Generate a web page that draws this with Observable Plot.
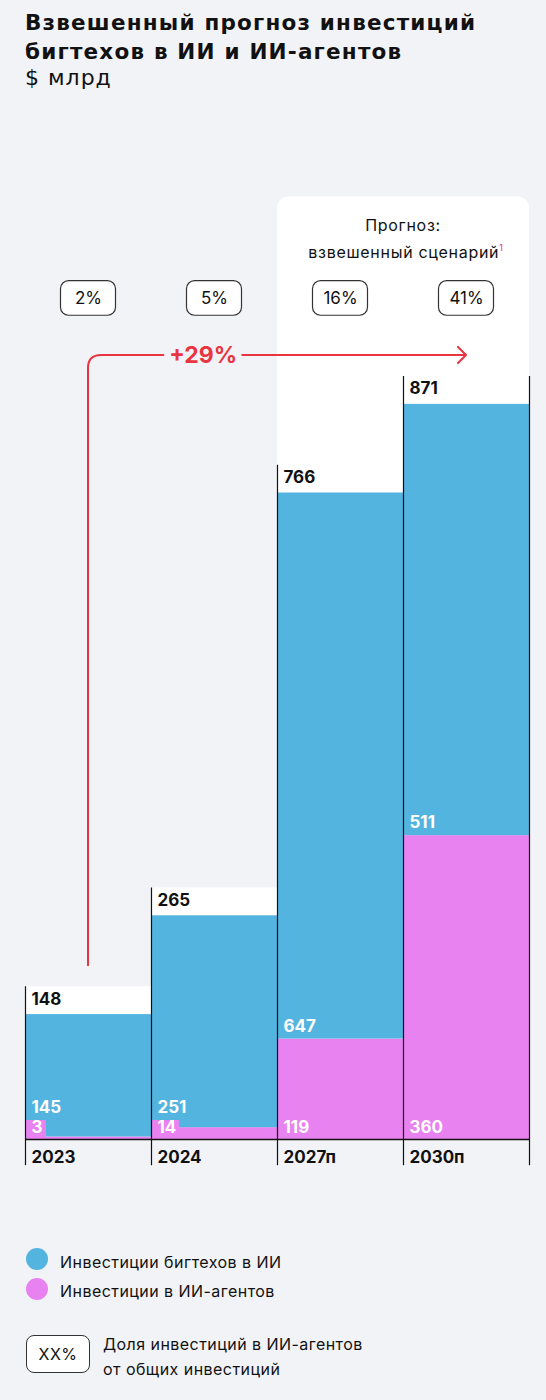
<!DOCTYPE html>
<html>
<head>
<meta charset="utf-8">
<script src="https://cdn.jsdelivr.net/npm/d3@7"></script>
<script src="https://cdn.jsdelivr.net/npm/@observablehq/plot@0.6"></script>
<style>
  html, body { margin: 0; padding: 0; }
  body { width: 546px; height: 1400px; background: #f2f3f7; font-family: Inter, "Noto Sans", sans-serif; color: #111; position: relative; overflow: hidden; }
  .abs { position: absolute; }
  #title { left: 25px; top: 8px; font-family: "DejaVu Sans", sans-serif; font-size: 21.5px; font-weight: 700; line-height: 29px; letter-spacing: 1.2px; white-space: nowrap; }
  #subtitle { left: 25px; top: 63px; font-family: "DejaVu Sans", sans-serif; font-size: 22px; font-weight: 400; line-height: 29px; letter-spacing: 1px; }
  #chart { left: 0; top: 110px; }
  .dot { width: 22px; height: 22px; border-radius: 50%; left: 26px; }
  .leg { left: 60px; font-size: 16px; line-height: 20px; white-space: nowrap; letter-spacing: 0.45px; }
  #box { left: 26px; top: 1335px; width: 62px; height: 36px; border: 1.3px solid #333; border-radius: 8px; background: #fff; font-size: 16px; letter-spacing: 0.5px; display: flex; align-items: center; justify-content: center; }
  #boxtext { left: 103px; top: 1332px; font-size: 16px; line-height: 25px; white-space: nowrap; letter-spacing: 0.45px; }
</style>
</head>
<body>
<div id="title" class="abs">Взвешенный прогноз инвестиций<br>бигтехов в ИИ и ИИ-агентов</div>
<div id="subtitle" class="abs">$ млрд</div>
<div id="chart" class="abs"></div>

<div class="abs dot" style="top:1248px;background:#54b4e0"></div>
<div class="abs leg" style="top:1252px">Инвестиции бигтехов в ИИ</div>
<div class="abs dot" style="top:1278px;background:#e882f0"></div>
<div class="abs leg" style="top:1281px">Инвестиции в ИИ-агентов</div>
<div id="box" class="abs">XX%</div>
<div id="boxtext" class="abs">Доля инвестиций в ИИ-агентов<br>от общих инвестиций</div>

<script>
// ---- data ----
const years   = ["2023", "2024", "2027п", "2030п"];
const bigtech = [145, 251, 647, 511];   // investments of bigtechs in AI (blue)
const agents  = [3, 14, 119, 360];      // investments in AI agents (pink)
const shares  = ["2%", "5%", "16%", "41%"];
const growthLabel = "+29%";
const forecastTitle = "Прогноз:";
const forecastSub = "взвешенный сценарий";
const footnote = "1";

// ---- style ----
const BLUE = "#54b4e0", PINK = "#e882f0", RED = "#e8353f", INK = "#111";
const LABEL_PAD = 33;       // white strip above each bar (data units)
const PANEL_TOP = 1117;     // top of forecast panel (data units)
const PCT_Y = 996.5;        // share boxes centre (data units)
const ARROW = {x0: 0.5, x1: 3.5, yBottom: 206, yTop: 929};
const SMALL = 22.5;         // minimum label box height for tiny pink segments

const rows = years.map((year, i) => ({
  i, year,
  blue: bigtech[i],
  agents: agents[i],
  total: bigtech[i] + agents[i],
  share: shares[i]
}));
const edges = rows.map(d => ({x: d.i, top: d.total + LABEL_PAD}))
  .concat([{x: rows.length, top: rows[rows.length - 1].total + LABEL_PAD}]);

const ns = "http://www.w3.org/2000/svg";

function arrowMark(index, scales) {
  const {x, y} = scales;
  const g = document.createElementNS(ns, "g");
  const x0 = x(ARROW.x0), xe = x(ARROW.x1), yb = y(ARROW.yBottom), yt = y(ARROW.yTop), r = 13;
  const p = document.createElementNS(ns, "path");
  p.setAttribute("d", `M${x0},${yb}V${yt + r}Q${x0},${yt} ${x0 + r},${yt}H${xe}M${xe - 8},${yt - 8}L${xe},${yt}L${xe - 8},${yt + 8}`);
  p.setAttribute("fill", "none");
  p.setAttribute("stroke", RED);
  p.setAttribute("stroke-width", 2);
  p.setAttribute("stroke-linecap", "round");
  p.setAttribute("stroke-linejoin", "round");
  g.appendChild(p);
  return g;
}

function headingMark(index, scales) {
  const {x, y} = scales;
  const g = document.createElementNS(ns, "g");
  g.setAttribute("font-size", 16);
  g.setAttribute("fill", INK);
  g.setAttribute("letter-spacing", "0.7");
  g.setAttribute("text-anchor", "middle");
  const cx = x(3);
  const t1 = document.createElementNS(ns, "text");
  t1.setAttribute("x", cx); t1.setAttribute("y", y(1083) + 6);
  t1.textContent = forecastTitle;
  const t2 = document.createElementNS(ns, "text");
  t2.setAttribute("x", cx + 3); t2.setAttribute("y", y(1051) + 6);
  const s1 = document.createElementNS(ns, "tspan");
  s1.textContent = forecastSub;
  const s2 = document.createElementNS(ns, "tspan");
  s2.textContent = footnote;
  s2.setAttribute("font-size", 9);
  s2.setAttribute("fill", RED);
  s2.setAttribute("dy", -7);
  t2.appendChild(s1); t2.appendChild(s2);
  g.appendChild(t1); g.appendChild(t2);
  return g;
}

const chart = Plot.plot({
  width: 546,
  height: 1100,
  marginLeft: 25, marginRight: 17, marginTop: 0, marginBottom: 71,
  x: {type: "linear", domain: [0, 4], range: [25, 529], axis: null},
  y: {domain: [0, 1000], range: [1029, 185], axis: null},
  style: {background: "transparent", fontFamily: "Inter, 'Noto Sans', sans-serif", color: INK, overflow: "visible"},
  marks: [
    // forecast panel
    Plot.rect([{}], {x1: 2, x2: 4, y1: 0, y2: PANEL_TOP, fill: "white", rx: 12}),
    // white strips for total labels
    Plot.rect(rows, {x1: "i", x2: d => d.i + 1, y1: "total", y2: d => d.total + LABEL_PAD, fill: "white"}),
    // stacked bars
    Plot.rect(rows, {x1: "i", x2: d => d.i + 1, y1: 0, y2: "agents", fill: PINK}),
    Plot.rect(rows, {x1: "i", x2: d => d.i + 1, y1: "agents", y2: "total", fill: BLUE}),
    Plot.rect(rows.filter(d => d.agents < SMALL), {
      x1: "i", x2: d => d.i + (14 + 7 * String(d.agents).length) / 126,
      y1: 0, y2: SMALL, fill: PINK
    }),
    // separators and baseline
    Plot.ruleX(edges, {x: "x", y1: -31, y2: "top", stroke: INK, strokeWidth: 1.2}),
    Plot.ruleY([0], {x1: 0, x2: 4, stroke: INK, strokeWidth: 1.5}),
    // labels
    Plot.text(rows, {x: "i", y: 0, text: "year", dx: 6, dy: 18, textAnchor: "start", fontSize: 17, fontWeight: 700, fill: INK}),
    Plot.text(rows, {x: "i", y: "total", text: d => String(d.total), dx: 6, dy: -15.5, textAnchor: "start", fontSize: 17, fontWeight: 700, fill: INK}),
    Plot.text(rows, {x: "i", y: d => Math.max(d.agents, SMALL), text: d => String(d.blue), dx: 6, dy: -13, textAnchor: "start", fontSize: 17, fontWeight: 700, fill: "white"}),
    Plot.text(rows, {x: "i", y: 0, text: d => String(d.agents), dx: 6, dy: -11.5, textAnchor: "start", fontSize: 17, fontWeight: 700, fill: "white"}),
    // share boxes
    Plot.rect(rows, {x1: "i", x2: d => d.i + 1, insetLeft: 35.5, insetRight: 35.5, y1: PCT_Y - 20.5, y2: PCT_Y + 20.5, rx: 8, fill: "white", stroke: "#333", strokeWidth: 1.2}),
    Plot.text(rows, {x: d => d.i + 0.5, y: PCT_Y, text: "share", fontSize: 17, fill: INK}),
    // forecast heading
    headingMark,
    // growth arrow
    arrowMark,
    Plot.text([growthLabel], {x: 1.41, y: ARROW.yTop, text: d => d, fontSize: 23, fontWeight: 700, fill: RED, stroke: "#f2f3f7", strokeWidth: 14, paintOrder: "stroke"})
  ]
});
document.getElementById("chart").appendChild(chart);
</script>
</body>
</html>
